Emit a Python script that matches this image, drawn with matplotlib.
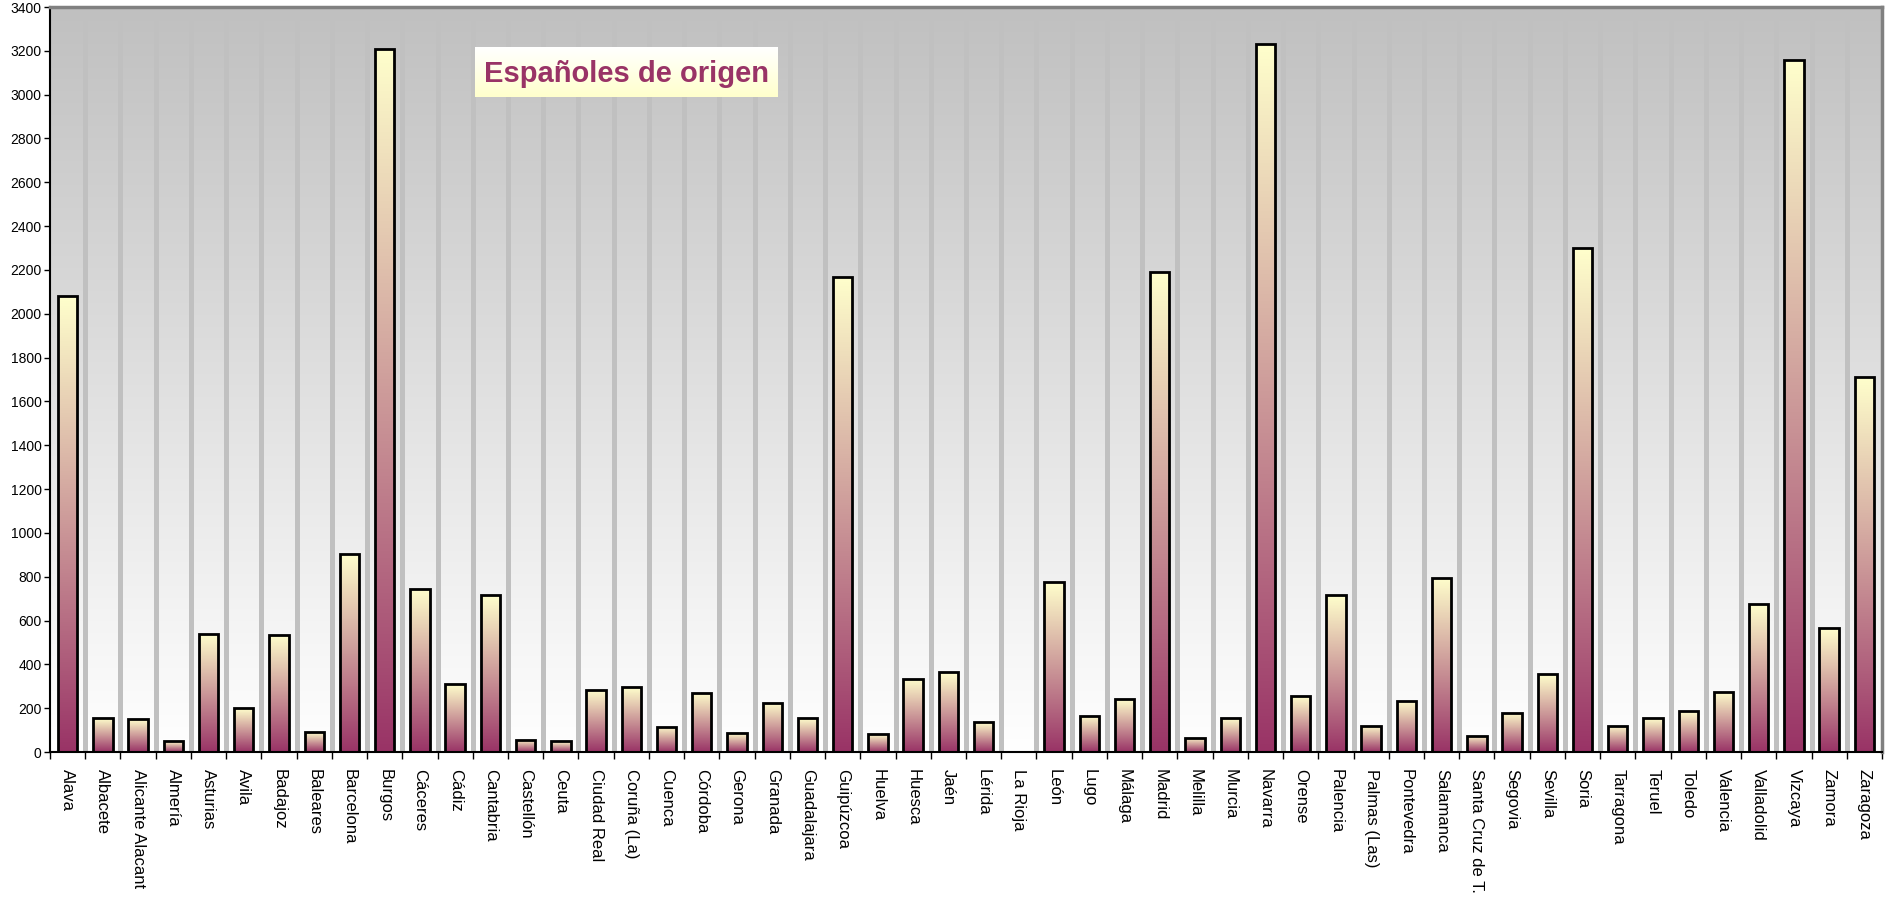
import numpy as np
import matplotlib
matplotlib.use('Agg')
import matplotlib.pyplot as plt
from matplotlib.colors import LinearSegmentedColormap
from matplotlib.patches import Rectangle

plt.rcParams['font.family'] = 'Liberation Sans'

# Data
provincias = ['Alava', 'Albacete', 'Alicante Alacant', 'Almería', 'Asturias', 'Avila',
              'Badajoz', 'Baleares', 'Barcelona', 'Burgos', 'Cáceres', 'Cádiz',
              'Cantabria', 'Castellón', 'Ceuta', 'Ciudad Real', 'Coruña (La)', 'Cuenca',
              'Córdoba', 'Gerona', 'Granada', 'Guadalajara', 'Guipúzcoa', 'Huelva',
              'Huesca', 'Jaén', 'Lérida', 'La Rioja', 'León', 'Lugo', 'Málaga', 'Madrid',
              'Melilla', 'Murcia', 'Navarra', 'Orense', 'Palencia', 'Palmas (Las)',
              'Pontevedra', 'Salamanca', 'Santa Cruz de T.', 'Segovia', 'Sevilla', 'Soria',
              'Tarragona', 'Teruel', 'Toledo', 'Valencia', 'Valladolid', 'Vizcaya',
              'Zamora', 'Zaragoza']
valores = [2080, 155, 150, 50, 540, 200, 535, 90, 905, 3210, 745, 310,
           715, 55, 50, 285, 295, 115, 270, 85, 225, 155, 2170, 80,
           335, 365, 135, 0, 775, 165, 240, 2190, 65, 155, 3230, 255,
           715, 120, 235, 795, 75, 180, 355, 2300, 120, 155, 185, 275,
           675, 3160, 565, 1710]
titulo = 'Españoles de origen'

W, H = 1885, 907
fig = plt.figure(figsize=(W / 100, H / 100), dpi=100)
ax = fig.add_axes([50 / W, 1 - 752 / H, (1882 - 50) / W, (752 - 7) / H])

n = len(provincias)

# background gradient: gray top -> white bottom
bg = LinearSegmentedColormap.from_list('bg', ['#ffffff', '#c0c0c0'])
grad = np.linspace(0, 1, 256).reshape(-1, 1)
ax.imshow(grad, cmap=bg, aspect='auto', origin='lower', extent=[0, 1, 0, 1],
          transform=ax.transAxes, zorder=0)

# thick gray separators between categories
for i in range(n - 1):
    ax.axvline(i + 0.5, color='#c0c0c0', lw=3.6, zorder=1)

# bars with per-bar gradient
barcmap = LinearSegmentedColormap.from_list('bar', ['#993366', '#ffffcc'])
bw = 0.55
for i, v in enumerate(valores):
    if v <= 0:
        continue
    im = ax.imshow(grad, cmap=barcmap, aspect='auto', origin='lower',
                   extent=[i - bw / 2, i + bw / 2, 0, v], zorder=2)
    rect = Rectangle((i - bw / 2, 0), bw, v, facecolor='none',
                     edgecolor='black', lw=2.0, zorder=3)
    ax.add_patch(rect)
    im.set_clip_path(rect)

ax.set_xlim(-0.5, n - 0.5)
ax.set_ylim(0, 3400)

ax.set_yticks(np.arange(0, 3401, 200))
ax.tick_params(axis='y', labelsize=10, length=4, width=1, pad=2, colors='black')
ax.set_xticks(np.arange(n))
ax.set_xticklabels(provincias, rotation=270, fontsize=12, va='top', ha='center')
ax.tick_params(axis='x', length=0, pad=12)
# tick marks on category boundaries
ax.set_xticks(np.arange(n + 1) - 0.5, minor=True)
ax.tick_params(axis='x', which='minor', length=5, width=1, direction='out')

for s in ['left', 'bottom']:
    ax.spines[s].set_color('black')
    ax.spines[s].set_linewidth(1.5)
for s in ['top', 'right']:
    ax.spines[s].set_color('#808080')
    ax.spines[s].set_linewidth(2.5)

# title box
tax = fig.add_axes([475 / W, 1 - 97 / H, 302 / W, 50 / H])
tb = LinearSegmentedColormap.from_list('tb', ['#ffffcc', '#ffffff'])
tax.imshow(grad, cmap=tb, aspect='auto', origin='lower', extent=[0, 1, 0, 1])
tax.set_xlim(0, 1)
tax.set_ylim(0, 1)
tax.axis('off')
tax.text(0.5, 0.47, titulo, ha='center', va='center', fontsize=21,
         fontweight='bold', color='#993366')

fig.savefig('out.png', dpi=100)
